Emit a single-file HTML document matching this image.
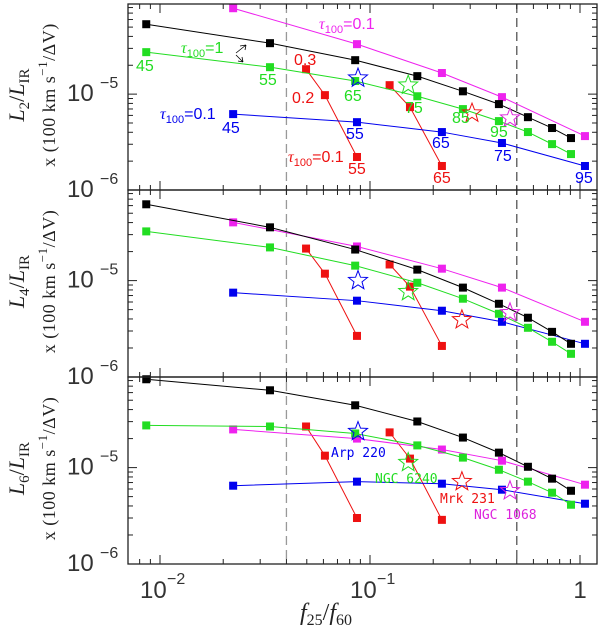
<!DOCTYPE html>
<html><head><meta charset="utf-8"><style>
html,body{margin:0;padding:0;background:#fff}
svg{display:block}
text{font-family:"Liberation Sans",sans-serif}
.mono{font-family:"DejaVu Sans Mono","Liberation Mono",monospace}
.ser{font-family:"Liberation Serif",serif}
</style></head><body>
<svg id="chart" width="600" height="628" viewBox="0 0 600 628" xmlns="http://www.w3.org/2000/svg"></svg>
<script>
// x values (f25/f60)
const xTau1 = [0.0086,0.0334,0.085,0.168,0.277,0.411,0.565,0.736,0.906];
const xTau01 = [0.0223,0.0867,0.22,0.425,1.056];
const xRedA = [0.0496,0.061,0.0867];
const xRedB = [0.124,0.155,0.22];
const starNames = ["Arp 220","NGC 6240","Mrk 231","NGC 1068"];
const starX = [0.0877,0.152,0.274,0.464];
const starXTop = [0.0877,0.152,0.306,0.464];
// panel 1 (L2)
const p1Black = [5.36e-5,3.40e-5,2.26e-5,1.54e-5,1.07e-5,7.87e-6,5.75e-6,4.43e-6,3.48e-6];
const p1Green = [2.74e-5,1.91e-5,1.37e-5,9.5e-6,6.98e-6,5.23e-6,4.02e-6,3.01e-6,2.37e-6];
const p1Magenta = [7.87e-5,3.32e-5,1.66e-5,9.3e-6,3.65e-6];
const p1Blue = [6.19e-6,5.1e-6,4.02e-6,3.09e-6,1.78e-6];
const p1RedA = [1.82e-5,9.76e-6,2.21e-6];
const p1RedB = [1.24e-5,7.32e-6,1.78e-6];
const p1Stars = [1.47e-5,1.24e-5,6.34e-6,5.62e-6];
// panel 2 (L4)
const p2Black = [6.19e-5,3.57e-5,2.10e-5,1.30e-5,8.46e-6,5.75e-6,4.12e-6,2.94e-6,2.21e-6];
const p2Green = [3.24e-5,2.21e-5,1.43e-5,9.5e-6,6.49e-6,4.53e-6,3.24e-6,2.32e-6,1.74e-6];
const p2Magenta = [4.02e-5,2.26e-5,1.33e-5,8.46e-6,3.74e-6];
const p2Blue = [7.5e-6,6.19e-6,4.87e-6,3.74e-6,2.21e-6];
const p2RedA = [2.15e-5,1.18e-5,2.67e-6];
const p2RedB = [1.47e-5,8.66e-6,2.1e-6];
const p2Stars = [1.0e-5,7.68e-6,3.92e-6,4.64e-6];
// panel 3 (L6)
const p3Black = [8.25e-5,6.34e-5,4.43e-5,3.01e-5,2.05e-5,1.43e-5,1.02e-5,7.68e-6,5.75e-6];
const p3Green = [2.74e-5,2.67e-5,2.26e-5,1.70e-5,1.27e-5,9.5e-6,7.15e-6,5.49e-6,4.12e-6];
const p3Magenta = [2.49e-5,2.0e-5,1.54e-5,1.18e-5,6.65e-6];
const p3Blue = [6.49e-6,7.15e-6,6.81e-6,5.9e-6,4.22e-6];
const p3RedA = [2.67e-5,1.33e-5,3.0e-6];
const p3RedB = [2.32e-5,1.24e-5,2.87e-6];
const p3Stars = [2.37e-5,1.13e-5,7.15e-6,5.75e-6];
const dashX = [0.04,0.5];
const yTickLabels = ["10","10"];
const xTickVals = [0.01,0.1,1];
const xTickLabels = ["10","10","1"];

const svg = document.getElementById('chart');
const NS = 'http://www.w3.org/2000/svg';
const L = 128, R = 597;
const panels = [{top:4,bot:190},{top:190,bot:377},{top:377,bot:564}];
function xs(v){return 580 + 210*Math.log10(v);}
function ys(p,v){const pp=panels[p];return pp.bot - (pp.bot-pp.top)/1.94*(Math.log10(v)+6);}
function mk(tag,attrs,parent){const e=document.createElementNS(NS,tag);for(const k in attrs)e.setAttribute(k,attrs[k]);(parent||svg).appendChild(e);return e;}
function txt(x,y,s,fill,size,cls,parent){const t=mk('text',{x:x,y:y,fill:fill,'font-size':size},parent);if(cls)t.setAttribute('class',cls);t.textContent=s;return t;}

dashX.forEach((d,i)=>{
  const l=mk('line',{x1:xs(d),x2:xs(d),y1:4,y2:564,stroke:i==0?'#999':'#555','stroke-width':1.3,'stroke-dasharray':'9,5'});
  
  
});

function series(p,xv,yv,color,name){
  const g=mk('g',{});
  
  
  mk('polyline',{points:xv.map((x,i)=>xs(x)+','+ys(p,yv[i])).join(' '),fill:'none',stroke:color,'stroke-width':1},g);
  xv.forEach((x,i)=>{
    const r=mk('rect',{x:xs(x)-4,y:ys(p,yv[i])-4,width:8,height:8,fill:color},g);
    
    
  });
}
function starPath(cx,cy,r){let pts=[];for(let i=0;i<10;i++){const a=-Math.PI/2+i*Math.PI/5;const rr=i%2?r*0.42:r;pts.push((cx+rr*Math.cos(a)).toFixed(1)+','+(cy+rr*Math.sin(a)).toFixed(1));}return pts.join(' ');}
const starColors=['#0000ee','#22dd22','#ee1111','#dd22dd'];
function stars(p,xv,yv){
  xv.forEach((x,i)=>{
    const s=mk('polygon',{points:starPath(xs(x),ys(p,yv[i]),10),fill:'none',stroke:starColors[i],'stroke-width':1});
    
    
  });
}
const data=[
 [p1Black,p1Green,p1Magenta,p1Blue,p1RedA,p1RedB,p1Stars,starXTop],
 [p2Black,p2Green,p2Magenta,p2Blue,p2RedA,p2RedB,p2Stars,starX],
 [p3Black,p3Green,p3Magenta,p3Blue,p3RedA,p3RedB,p3Stars,starX]];
data.forEach((d,p)=>{
  series(p,xRedA,d[4],'#ee1111','red-series-a');
  series(p,xRedB,d[5],'#ee1111','red-series-b');
  series(p,xTau01,d[3],'#0000ee','blue-series');
  series(p,xTau01,d[2],'#ee22ee','magenta-series');
  series(p,xTau1,d[1],'#22dd22','green-series');
  series(p,xTau1,d[0],'#000000','black-series');
  stars(p,d[7],d[6]);
});

const subs=['2','4','6'];
panels.forEach((pp,p)=>{
  const f=mk('rect',{x:L,y:pp.top,width:R-L,height:pp.bot-pp.top,fill:'none',stroke:'#222','stroke-width':1.3});
  
  
  for(let dec=-3;dec<=0;dec++)for(let m=1;m<10;m++){
    const v=m*Math.pow(10,dec);const X=xs(v);if(X<L||X>R)continue;
    const len=m==1?9:5;
    mk('line',{x1:X,x2:X,y1:pp.bot,y2:pp.bot-len,stroke:'#222'});
    mk('line',{x1:X,x2:X,y1:pp.top,y2:pp.top+len,stroke:'#222'});
  }
  for(let dec=-6;dec<=-4;dec++)for(let m=1;m<10;m++){
    const v=m*Math.pow(10,dec);const Y=ys(p,v);if(Y<pp.top-0.5||Y>pp.bot+0.5)continue;
    const len=m==1?9:5;
    mk('line',{x1:L,x2:L+len,y1:Y,y2:Y,stroke:'#222'});
    mk('line',{x1:R,x2:R-len,y1:Y,y2:Y,stroke:'#222'});
  }
  [-5,-6].forEach((e,i)=>{
    const Y=ys(p,Math.pow(10,e));
    const t=txt(67,Y+7,yTickLabels[i],'#333',24,null);
    
    
    txt(100,Y-6,'−'+(-e),'#333',16,null);
  });
  const yc=(pp.top+pp.bot)/2;
  const g=mk('g',{transform:'translate(24,'+(yc-2)+') rotate(-90)'});
  
  
  const t1=mk('text',{x:0,y:0,'text-anchor':'middle','font-size':22,fill:'#222',class:'ser'},g);
  t1.innerHTML='<tspan font-style="italic">L</tspan><tspan font-size="15" dy="5">'+subs[p]+'</tspan><tspan dy="-5">/</tspan><tspan font-style="italic">L</tspan><tspan font-size="15" dy="5">IR</tspan>';
  const t2=mk('text',{x:0,y:31,'text-anchor':'middle','font-size':18,fill:'#222',class:'ser',  'letter-spacing':'0.5'},g);
  t2.innerHTML='x (100 km s<tspan font-size="13" dy="-8">−1</tspan><tspan dy="8">/ΔV)</tspan>';
});
xTickVals.forEach((v,i)=>{
  const X=xs(v);
  const t=txt(X-(i<2?20:0),598,xTickLabels[i],'#333',24,null);
  if(i==2)t.setAttribute('text-anchor','middle');
  
  
  if(i<2)txt(X+7,584,i==0?'−2':'−1','#333',16,null);
});
const xt=mk('text',{x:326,y:620,'text-anchor':'middle','font-size':24,fill:'#222',class:'ser'});


xt.innerHTML='<tspan font-style="italic">f</tspan><tspan font-size="16" dy="5">25</tspan><tspan dy="-5">/</tspan><tspan font-style="italic">f</tspan><tspan font-size="16" dy="5">60</tspan>';

function ann(x,y,html,color,size,name){const t=mk('text',{x:x,y:y,fill:color,'font-size':size||16});t.innerHTML=html;return t;}
const tau=(v)=>'<tspan font-style="italic" class="ser">τ</tspan><tspan font-size="11" dy="4">100</tspan><tspan dy="-4">='+v+'</tspan>';
ann(319,29,tau('0.1'),'#ee22ee',16,'tau-label-magenta');
ann(181,53,tau('1'),'#22dd22',16,'tau-label-green');
ann(160,119,tau('0.1'),'#0000ee',16,'tau-label-blue');
ann(288,162,tau('0.1'),'#ee1111',16,'tau-label-red');
ann(294,65,'0.3','#ee1111',16,'label-0.3');
ann(292,103,'0.2','#ee1111',16,'label-0.2');
const g2=mk('g',{stroke:'#000',fill:'none','stroke-width':0.8});


mk('path',{d:'M236,53 L246,45 M246,45 L240,46 M246,45 L245,50'},g2);
mk('path',{d:'M236,55 L243,62 M243,62 L238,61 M243,62 L242,57'},g2);
[[136,71,'45'],[259,85,'55'],[344,101,'65'],[405,113,'75'],[452,123,'85'],[490,137,'95']].forEach(a=>ann(a[0],a[1],a[2],'#22dd22',16,'green-label-'+a[2]));
[[222,133,'45'],[346,139,'55'],[432,148,'65'],[494,161,'75'],[575,183,'95']].forEach(a=>ann(a[0],a[1],a[2],'#0000ee',16,'blue-label-'+a[2]));
[[348,174,'55'],[433,183,'65']].forEach(a=>ann(a[0],a[1],a[2],'#ee1111',16,'red-label-'+a[2]));
[[331,457,'Arp 220','#0000ee'],[375,483,'NGC 6240','#22dd22'],[440,503,'Mrk 231','#ee1111'],[474,519,'NGC 1068','#dd22dd']].forEach(a=>{
  const t=txt(a[0],a[1],a[2],a[3],13,'mono');
  
  
});
</script>
</body></html>
